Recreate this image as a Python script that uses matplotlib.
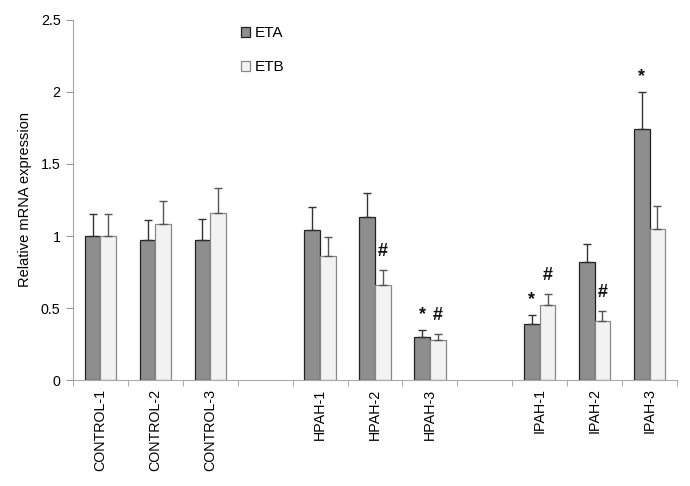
import numpy as np
import matplotlib
matplotlib.use('Agg')
import matplotlib.pyplot as plt

plt.rcParams['font.family'] = ['Liberation Sans', 'DejaVu Sans']

# data (blank strings are gaps between groups)
categories = ["CONTROL-1", "CONTROL-2", "CONTROL-3", "",
              "HPAH-1", "HPAH-2", "HPAH-3", "",
              "IPAH-1", "IPAH-2", "IPAH-3"]
eta = [1.00, 0.97, 0.97, np.nan, 1.04, 1.13, 0.30, np.nan, 0.39, 0.82, 1.74]
eta_err = [0.15, 0.14, 0.15, 0, 0.16, 0.17, 0.05, 0, 0.06, 0.125, 0.26]
etb = [1.00, 1.08, 1.16, np.nan, 0.86, 0.66, 0.275, np.nan, 0.52, 0.41, 1.05]
etb_err = [0.15, 0.165, 0.175, 0, 0.13, 0.105, 0.045, 0, 0.08, 0.07, 0.16]

# significance marks: (category, series, symbol)
marks = [("HPAH-2", "ETB", "#"), ("HPAH-3", "ETA", "*"), ("HPAH-3", "ETB", "#"),
         ("IPAH-1", "ETA", "*"), ("IPAH-1", "ETB", "#"), ("IPAH-2", "ETB", "#"),
         ("IPAH-3", "ETA", "*")]

x = np.arange(len(categories))
w = 0.285

fig = plt.figure(figsize=(6.9, 4.86), dpi=100)
ax = fig.add_axes([0.1058, 0.218, 0.8754, 0.741])

ax.bar(x - w / 2, eta, w, color="#8e8e8e", edgecolor="#222222", linewidth=0.9,
       label="ETA", zorder=2)
ax.bar(x + w / 2, etb, w, color="#f2f2f2", edgecolor="#888888", linewidth=0.9,
       label="ETB", zorder=2)

eta_arr = np.array(eta)
etb_arr = np.array(etb)
ok = ~np.isnan(eta_arr)
ax.errorbar(x[ok] - w / 2, eta_arr[ok], yerr=[np.zeros(ok.sum()), np.array(eta_err)[ok]],
            fmt='none', ecolor="#333333", elinewidth=1, capsize=3, capthick=1, zorder=3)
ax.errorbar(x[ok] + w / 2, etb_arr[ok], yerr=[np.zeros(ok.sum()), np.array(etb_err)[ok]],
            fmt='none', ecolor="#555555", elinewidth=1, capsize=3, capthick=1, zorder=3)

for cat, ser, sym in marks:
    i = categories.index(cat)
    if ser == "ETA":
        xx, top = i - w / 2, eta[i] + eta_err[i]
    else:
        xx, top = i + w / 2, etb[i] + etb_err[i]
    ax.annotate(sym, xy=(xx, top), xytext=(0, 7 if sym == "#" else 5),
                textcoords="offset points", ha='center', va='bottom',
                fontsize=13, weight='bold', color="#111111")

ax.set_xlim(-0.5, len(categories) - 0.5)
ax.set_ylim(0, 2.5)
ax.set_yticks([0, 0.5, 1, 1.5, 2, 2.5])
ax.set_yticklabels(["0", "0.5", "1", "1.5", "2", "2.5"])
ax.set_ylabel("Relative mRNA expression", fontsize=10.5, labelpad=6)

ax.set_xticks(x)
ax.set_xticklabels(categories, rotation=90, fontsize=10.3)
ax.set_xticks(np.arange(len(categories) + 1) - 0.5, minor=True)
ax.tick_params(axis='x', which='major', length=0, pad=6)
ax.tick_params(axis='x', which='minor', length=4, color="#999999", direction='out')
ax.tick_params(axis='y', length=5, color="#999999", labelsize=10.3, pad=4)

for s in ["top", "right"]:
    ax.spines[s].set_visible(False)
ax.spines["left"].set_color("#aaaaaa")
ax.spines["bottom"].set_color("#aaaaaa")

ax.legend(loc="upper left", bbox_to_anchor=(0.255, 1.02), frameon=False,
          fontsize=11, handlelength=0.62, handleheight=0.62, handletextpad=0.3,
          labelspacing=1.3)

plt.savefig("out.png", dpi=100)
